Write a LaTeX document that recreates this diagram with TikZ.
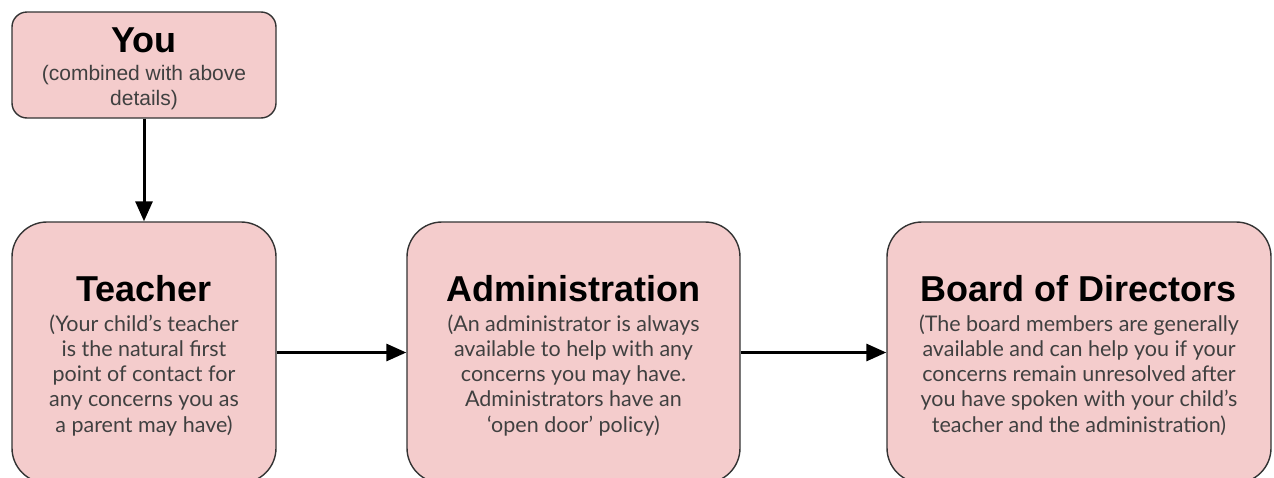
\documentclass[tikz,border=0pt]{standalone}
\usepackage{fontspec}
\setmainfont{Liberation Sans}
\newfontfamily\headfamily{Liberation Sans}
\newfontfamily\softfont{Lato}
\usetikzlibrary{arrows.meta}

\definecolor{boxpink}{HTML}{F4CCCC}
\definecolor{boxline}{HTML}{333333}
\definecolor{subgray}{HTML}{404040}

\newcommand{\headfont}{\fontsize{36}{40}\selectfont\headfamily\bfseries\color{black}}
\newcommand{\notefont}{\fontsize{21.5}{25.3}\selectfont\softfont\color{subgray}}
\newcommand{\youfont}{\fontsize{21}{24.5}\selectfont\headfamily\mdseries\color{subgray}}

\tikzset{
  stepcard/.style={draw=boxline, line width=1.4pt, fill=boxpink, rounded corners=35pt, inner sep=0pt},
  cardtext/.style={align=center, anchor=north, inner sep=0pt, font=\notefont},
  link/.style={line width=3pt, -{Triangle[length=20pt,width=17pt]}}
}

\begin{document}
\begin{tikzpicture}[x=1pt, y=-1pt]
\useasboundingbox (0,0) rectangle (1274,477) ;
\clip (0,0) rectangle (1274,477) ;

\node[stepcard, rounded corners=15pt, minimum width=264pt, minimum height=106pt] (you) at (144,65) {} ;
\node[cardtext, font=\youfont] (youtext) at (144,27.5) {{\headfont You}\\[4pt]
  (combined with above\\ details)} ;

\node[stepcard, minimum width=264pt, minimum height=261pt] (teacher) at (144,352.5) {} ;
\node[cardtext] (teachertext) at (144,275.5) {{\headfont Teacher}\\[4pt]
  (Your child’s teacher\\ is the natural first\\ point of contact for\\ any concerns you as\\ a parent may have)} ;

\node[stepcard, minimum width=333pt, minimum height=261pt] (admin) at (573.5,352.5) {} ;
\node[cardtext] (admintext) at (573.5,275.5) {{\headfont Administration}\\[4pt]
  (An administrator is always\\ available to help with any\\ concerns you may have.\\ Administrators have an\\ ‘open door’ policy)} ;

\node[stepcard, minimum width=384pt, minimum height=261pt] (board) at (1079,352.5) {} ;
\node[cardtext] (boardtext) at (1079,275.5) {{\headfont Board of Directors}\\[4pt]
  (The board members are generally\\ available and can help you if your\\ concerns remain unresolved after\\ you have spoken with your child’s\\ teacher and the administration)} ;

\draw[link] (you) -- (teacher) ;
\draw[link] (teacher) -- (admin) ;
\draw[link] (admin) -- (board) ;
\end{tikzpicture}
\end{document}
